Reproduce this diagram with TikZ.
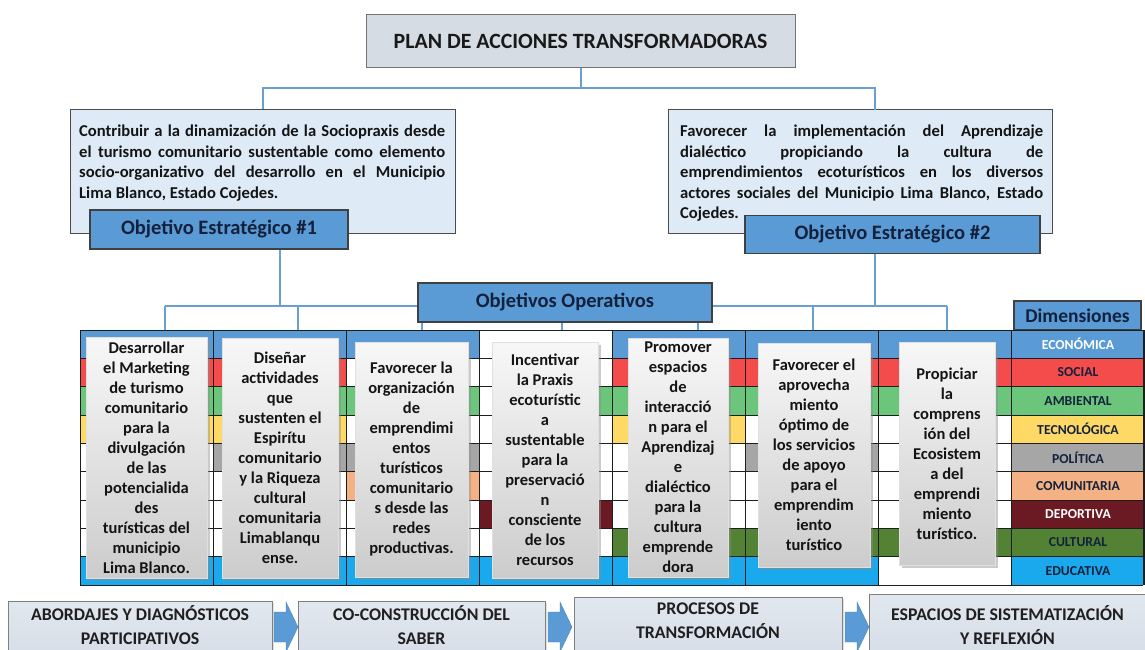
\documentclass[tikz,border=0pt]{standalone}
\usepackage{fontspec}
\setmainfont{Carlito}
\usetikzlibrary{shadows,calc}

\definecolor{connc}{HTML}{6A9FD4}
\definecolor{hblue}{HTML}{5B9BD5}
\definecolor{cred}{HTML}{F44B4B}
\definecolor{cgreen}{HTML}{6BC57A}
\definecolor{cyellow}{HTML}{FFD966}
\definecolor{cgray}{HTML}{A6A6A6}
\definecolor{corange}{HTML}{F4B183}
\definecolor{cdred}{HTML}{6B1A23}
\definecolor{cdgreen}{HTML}{548235}
\definecolor{ccyan}{HTML}{19A9EC}
\definecolor{objfill}{HTML}{DEEBF7}
\definecolor{titlefill}{HTML}{D6DCE4}
\definecolor{darktxt}{HTML}{14213D}
\definecolor{gridc}{HTML}{1E1E1E}
\definecolor{botfill}{HTML}{D5DDE7}

\tikzset{
  connector/.style={connc, line width=2pt},
  titlebox/.style={draw=black!55, fill=titlefill, line width=1pt, inner sep=0pt,
    font=\fontsize{21.8}{24}\selectfont\bfseries, text=black!90},
  objbox/.style={draw=black!70, fill=objfill, line width=1pt, inner sep=0pt},
  objtext/.style={inner sep=0pt, align=justify, text=black!92,
    font=\fontsize{16.6}{20.5}\selectfont\bfseries},
  objlab/.style={draw=black!75, fill=hblue, line width=1.1pt, inner sep=0pt,
    text=darktxt, font=\fontsize{20.5}{23}\selectfont\bfseries},
  card/.style={inner sep=0pt, align=center, top color=white!97!black, bottom color=white!80!black,
    draw=white!88!black, line width=.4pt, text=black!92,
    font=\fontsize{16.5}{20}\selectfont\bfseries,
    general shadow={fill=black!45, shadow xshift=3pt, shadow yshift=-3pt, opacity=.45}},
  dimlab/.style={inner sep=0pt, text=darktxt, font=\fontsize{13.7}{15}\selectfont\bfseries},
  botbox/.style={draw=black!50, top color=botfill!70!white, bottom color=botfill, line width=.8pt, inner sep=0pt,
    general shadow={fill=black!30, shadow xshift=2pt, shadow yshift=-2pt, opacity=.4}},
  bottext/.style={inner sep=0pt, align=center, text=black!88,
    font=\fontsize{17.8}{24}\selectfont\bfseries},
  barrow/.style={fill=hblue, draw=hblue!80!black, line width=.3pt},
}

\begin{document}
\begin{tikzpicture}[x=1pt, y=-1pt]
\useasboundingbox (0,0) rectangle (1145,650);

% ---------- title ----------
\node[titlebox, minimum width=429pt, minimum height=53pt] (title) at (580.5,41.5) {PLAN DE ACCIONES TRANSFORMADORAS};

% ---------- strategic objectives ----------
\node[objbox, minimum width=385pt, minimum height=123pt] (obj1) at (262.5,171.5) {};
\node[objtext, text width=366pt, anchor=north west] (obj1t) at (79,125) {Contribuir a la dinamización de la Sociopraxis desde\linebreak el turismo comunitario sustentable como elemento\linebreak socio-organizativo del desarrollo en el Municipio\linebreak Lima Blanco, Estado Cojedes.};

\node[objbox, minimum width=384pt, minimum height=123pt] (obj2) at (860,171.5) {};
\node[objtext, text width=363pt, anchor=north west] (obj2t) at (680,125) {Favorecer la implementación del Aprendizaje\linebreak dialéctico propiciando la cultura de\linebreak emprendimientos ecoturísticos en los diversos\linebreak actores sociales del Municipio Lima Blanco, Estado\linebreak Cojedes.};

% connectors top
\draw[connector] (title.south) -- ++(0,20) coordinate (hj);
\coordinate (o2t) at (875,110);
\draw[connector] (obj1.north) |- (hj) -| (o2t);

% connectors to table
\coordinate (e1) at (280,249);
\coordinate (e2) at (875,254);
\coordinate (hl) at (280,306);
\coordinate (c1) at (165,330);
\coordinate (c2) at (298,330);
\coordinate (c3) at (422,330);
\coordinate (c4) at (562,330);
\coordinate (c5) at (698,330);
\coordinate (c6) at (813,330);
\coordinate (c7) at (947,330);
\draw[connector] (c1 |- hl) -- (c7 |- hl);
\draw[connector] (e1) -- (e1 |- hl);
\draw[connector] (e2) -- (e2 |- hl);
\foreach \c in {c1,c2,c3,c4,c5,c6,c7} \draw[connector] (\c |- hl) -- (\c);

\node[objlab, minimum width=258pt, minimum height=39pt] (oe1) at (219,229.5) {Objetivo Estratégico \#1};
\node[objlab, minimum width=295pt, minimum height=38pt] (oe2) at (892.5,234.5) {Objetivo Estratégico \#2};
\node[objlab, minimum width=294pt, minimum height=39pt] (oo) at (565,302.5) {Objetivos Operativos};
\node[objlab, minimum width=127pt, minimum height=29pt, font=\fontsize{19.5}{21}\selectfont\bfseries] (dimh) at (1077.5,315.5) {Dimensiones};

% ---------- table cells ----------
\def\rh{28.333}
\foreach \c/\r/\col in {
  0/0/hblue, 0/1/cred, 0/2/cgreen, 0/3/cyellow, 0/8/ccyan,
  1/0/hblue, 1/1/cred, 1/2/cgreen, 1/3/cyellow, 1/4/cgray, 1/8/ccyan,
  2/0/hblue, 2/2/cgreen, 2/4/cgray, 2/5/corange, 2/8/ccyan,
  3/6/cdred, 3/8/ccyan,
  4/0/hblue, 4/1/cred, 4/2/cgreen, 4/3/cyellow, 4/7/cdgreen, 4/8/ccyan,
  5/0/hblue, 5/1/cred, 5/2/cgreen, 5/4/cgray, 5/7/cdgreen, 5/8/ccyan,
  6/0/hblue, 6/1/cred, 6/2/cgreen, 6/7/cdgreen,
  7/0/hblue, 7/1/cred, 7/2/cgreen, 7/3/cyellow, 7/4/cgray, 7/5/corange, 7/6/cdred, 7/7/cdgreen, 7/8/ccyan}
  \fill[\col] ({80+\c*133},{330+\r*\rh}) rectangle ++(133,\rh);
% partial cell (col 4, ambiental, right part)
\fill[cgreen] (545,{330+2*\rh}) rectangle ++(67,\rh);

% grid
\foreach \r in {0,...,9} \draw[gridc, line width=.7pt] (80,{330+\r*\rh}) -- (1143,{330+\r*\rh});
\foreach \c in {0,...,8} \draw[gridc, line width=1pt] ({80+\c*133},330) -- ({80+\c*133},585);
\draw[gridc, line width=1pt] (1143,330) -- (1143,585);

% dimension labels
\node[dimlab, text=white] (d0) at (1078,{330+0.5*\rh}) {ECONÓMICA};
\node[dimlab] (d1) at (1078,{330+1.5*\rh}) {SOCIAL};
\node[dimlab] (d2) at (1078,{330+2.5*\rh}) {AMBIENTAL};
\node[dimlab] (d3) at (1078,{330+3.5*\rh}) {TECNOLÓGICA};
\node[dimlab] (d4) at (1078,{330+4.5*\rh}) {POLÍTICA};
\node[dimlab] (d5) at (1078,{330+5.5*\rh}) {COMUNITARIA};
\node[dimlab, text=white] (d6) at (1078,{330+6.5*\rh}) {DEPORTIVA};
\node[dimlab] (d7) at (1078,{330+7.5*\rh}) {CULTURAL};
\node[dimlab] (d8) at (1078,{330+8.5*\rh}) {EDUCATIVA};

% ---------- cards ----------
\node[card, minimum width=121pt, minimum height=241pt] (k1) at (146.5,457.5) {Desarrollar\\el Marketing\\de turismo\\comunitario\\para la\\divulgación\\de las\\potencialida\\des\\turísticas del\\municipio\\Lima Blanco.};
\node[card, minimum width=116pt, minimum height=240pt] (k2) at (280,458) {Diseñar\\actividades\\que\\sustenten el\\Espirítu\\comunitario\\y la Riqueza\\cultural\\comunitaria\\Limablanqu\\ense.};
\node[card, minimum width=113pt, minimum height=235pt] (k3) at (411.5,459.5) {Favorecer la\\organización\\de\\emprendimi\\entos\\turísticos\\comunitario\\s desde las\\redes\\productivas.};
\node[card, minimum width=106pt, minimum height=236pt] (k4) at (545,460) {Incentivar\\la Praxis\\ecoturístic\\a\\sustentable\\para la\\preservació\\n\\consciente\\de los\\recursos};
\node[card, minimum width=100pt, minimum height=239pt] (k5) at (678,457.5) {Promover\\espacios\\de\\interacció\\n para el\\Aprendizaj\\e\\dialéctico\\para la\\cultura\\emprende\\dora};
\node[card, minimum width=112pt, minimum height=224pt] (k6) at (814,455) {Favorecer el\\aprovecha\\miento\\óptimo de\\los servicios\\de apoyo\\para el\\emprendim\\iento\\turístico};
\node[card, minimum width=96pt, minimum height=223pt] (k7) at (947,453.5) {Propiciar\\la\\comprens\\ión del\\Ecosistem\\a del\\emprendi\\miento\\turístico.};

% ---------- bottom process ----------
\node[botbox, minimum width=264pt, minimum height=60pt] (b1) at (140,631) {};
\node[botbox, minimum width=247pt, minimum height=60pt] (b2) at (421.5,631) {};
\node[botbox, minimum width=268pt, minimum height=64pt] (b3) at (708,629) {};
\node[botbox, minimum width=277pt, minimum height=66pt] (b4) at (1007.5,627) {};
\node[bottext] (b1t) at (140,625) {ABORDAJES Y DIAGNÓSTICOS\\PARTICIPATIVOS};
\node[bottext] (b2t) at (421.5,625) {CO-CONSTRUCCIÓN DEL\\SABER};
\node[bottext] (b3t) at (708,621) {PROCESOS DE\\TRANSFORMACIÓN};
\node[bottext] (b4t) at (1007.5,625.5) {ESPACIOS DE SISTEMATIZACIÓN\\Y REFLEXIÓN};

\fill[barrow] (274,612) -- (286,612) -- (286,602) -- (298,627) -- (286,652) -- (286,642) -- (274,642) -- cycle;
\fill[barrow] (548,612) -- (560,612) -- (560,602) -- (572,627) -- (560,652) -- (560,642) -- (548,642) -- cycle;
\fill[barrow] (845,612) -- (857,612) -- (857,602) -- (869,627) -- (857,652) -- (857,642) -- (845,642) -- cycle;
\end{tikzpicture}
\end{document}
